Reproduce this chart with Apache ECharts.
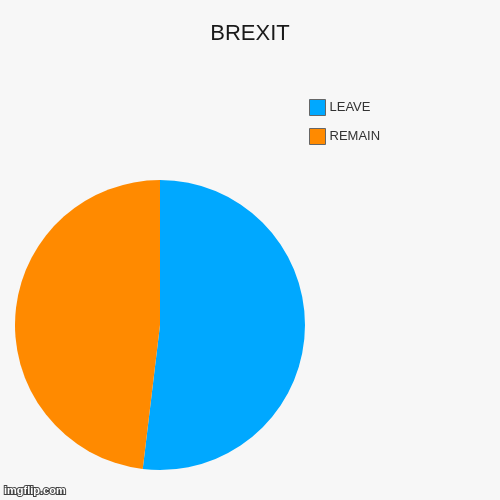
<!DOCTYPE html>
<html><head><meta charset="utf-8">
<script src="https://cdn.jsdelivr.net/npm/echarts@6/dist/echarts.min.js"></script>
<style>html,body{margin:0;padding:0;background:#f7f7f7}#c{width:500px;height:500px}</style>
</head><body><div id="c"></div>
<script>
const categories = ['LEAVE', 'REMAIN'];
const values = [51.9, 48.1];
const colors = ['#00a8ff', '#ff8a00'];

const chart = echarts.init(document.getElementById('c'));
chart.setOption({
  backgroundColor: '#f7f7f7',
  animation: false,
  title: { text: 'BREXIT', left: 'center', top: 18, textStyle: { fontFamily: 'Liberation Sans', fontWeight: 'normal', fontSize: 22, color: '#1a1a1a' } },
  legend: {
    orient: 'vertical', left: 304, top: 94, itemWidth: 16, itemHeight: 16, itemGap: 12,
    icon: 'rect',
    itemStyle: { borderColor: '#666', borderWidth: 1 },
    textStyle: { fontFamily: 'Liberation Sans', fontSize: 13, color: '#333', padding: [0, 0, 0, -1] },
    data: categories
  },
  graphic: [{
    type: 'text', left: 3, top: 484,
    style: { text: 'imgflip.com', fill: '#fff', stroke: '#444', lineWidth: 2, font: 'bold 11px Arial' }
  }],
  series: [{
    type: 'pie', radius: 145, center: [160, 325], startAngle: 90, clockwise: true,
    label: { show: false }, labelLine: { show: false },
    itemStyle: { borderWidth: 0 },
    emphasis: { disabled: true },
    data: categories.map((n, i) => ({ name: n, value: values[i], itemStyle: { color: colors[i] } }))
  }]
});
</script></body></html>
